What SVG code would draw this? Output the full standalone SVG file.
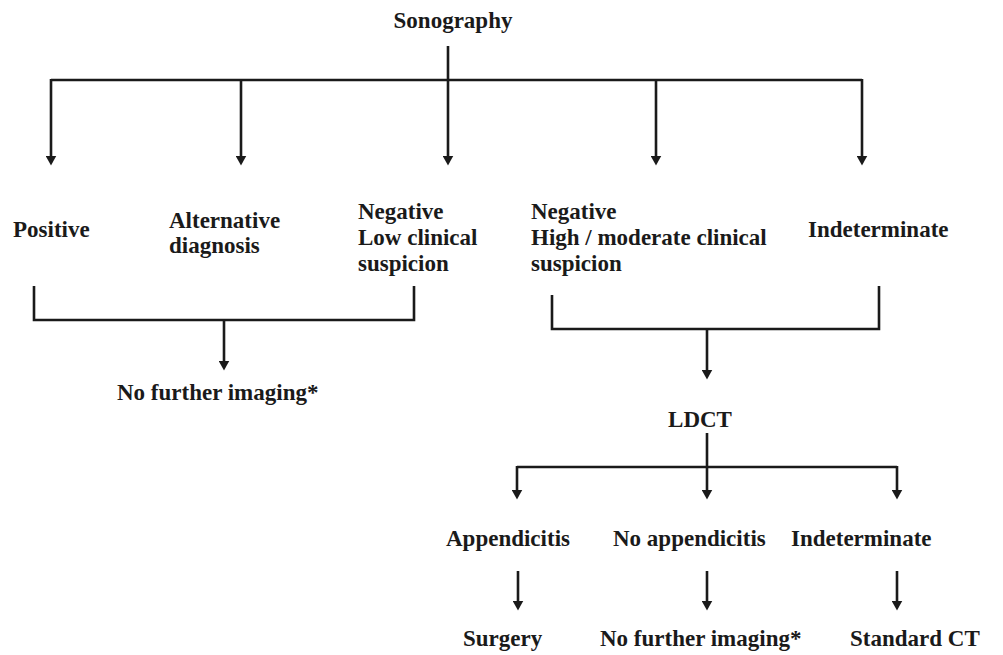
<svg xmlns="http://www.w3.org/2000/svg" width="1003" height="655" viewBox="0 0 1003 655">
<style>
text{font-family:"Liberation Serif","Times New Roman",serif;font-weight:bold;font-size:23px;fill:#1a1a1a}
.c{stroke:#1a1a1a;stroke-width:2.6;fill:none}
.a{marker-end:url(#ah)}
</style>
<defs>
<marker id="ah" markerUnits="userSpaceOnUse" viewBox="0 0 10 11" refX="0.5" refY="5.5" markerWidth="10" markerHeight="11" orient="auto">
<path d="M0,0 L10,5.5 L0,11 z" fill="#1a1a1a"/>
</marker>
</defs>
<rect width="1003" height="655" fill="#fff"/>
<g id="connectors">
<path class="c" d="M448,46 V80 M51,80 H862"/>
<path class="c a" d="M51,79 V156"/>
<path class="c a" d="M241,80 V156"/>
<path class="c a" d="M448,80 V156"/>
<path class="c a" d="M656,80 V156"/>
<path class="c a" d="M862,79 V156"/>
<path class="c" d="M34,286 V320 H414 V286"/>
<path class="c a" d="M224,320 V361"/>
<path class="c" d="M552,295 V329 H879 V286"/>
<path class="c a" d="M707,329 V370"/>
<path class="c" d="M707,433 V467 M517,467 H897"/>
<path class="c a" d="M517,466 V490"/>
<path class="c a" d="M707,467 V490"/>
<path class="c a" d="M897,466 V490"/>
<path class="c a" d="M518,571 V601"/>
<path class="c a" d="M707,571 V601"/>
<path class="c a" d="M897,571 V601"/>
</g>
<g id="sonography"><text x="453" y="28" text-anchor="middle">Sonography</text></g>
<g id="positive"><text x="13" y="237">Positive</text></g>
<g id="alternative"><text x="169" y="228">Alternative</text><text x="169" y="253">diagnosis</text></g>
<g id="negative-low"><text x="358" y="219">Negative</text><text x="358" y="245">Low clinical</text><text x="358" y="271">suspicion</text></g>
<g id="negative-high"><text x="531" y="219">Negative</text><text x="531" y="245">High / moderate clinical</text><text x="531" y="271">suspicion</text></g>
<g id="indeterminate-1"><text x="808" y="237">Indeterminate</text></g>
<g id="no-further-1"><text x="117" y="400">No further imaging*</text></g>
<g id="ldct"><text x="700" y="427" text-anchor="middle">LDCT</text></g>
<g id="appendicitis"><text x="446" y="546">Appendicitis</text></g>
<g id="no-appendicitis"><text x="613" y="546">No appendicitis</text></g>
<g id="indeterminate-2"><text x="791" y="546">Indeterminate</text></g>
<g id="surgery"><text x="463" y="646">Surgery</text></g>
<g id="no-further-2"><text x="600" y="646">No further imaging*</text></g>
<g id="standard-ct"><text x="850" y="646">Standard CT</text></g>
</svg>
